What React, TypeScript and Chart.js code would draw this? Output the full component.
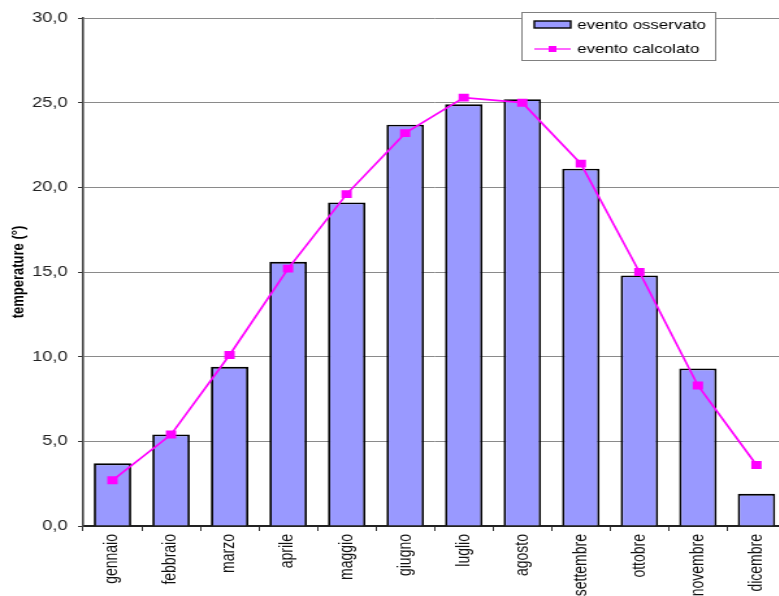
import React, { useEffect, useRef } from "react";
import { Chart, registerables } from "chart.js";

Chart.register(...registerables);

const months = [
  "gennaio", "febbraio", "marzo", "aprile", "maggio", "giugno",
  "luglio", "agosto", "settembre", "ottobre", "novembre", "dicembre",
];
const observed = [3.7, 5.4, 9.4, 15.6, 19.1, 23.7, 24.9, 25.2, 21.1, 14.8, 9.3, 1.9];
const calculated = [2.7, 5.4, 10.1, 15.2, 19.6, 23.2, 25.3, 25.0, 21.4, 15.0, 8.3, 3.6];
const seriesNames = ["evento osservato", "evento calcolato"];
const yTitle = "temperature (°)";
const yMin = 0;
const yMax = 30;
const yStep = 5;

const STRETCH = 1.3;
const CW = 610;
const CH = 596;
const FONT = "'Liberation Sans', Arial, sans-serif";
const BAR_FILL = "#9999FF";
const LINE_COLOR = "#FF00FF";

const legendBox = {
  id: "legendBox",
  afterDraw(chart: any) {
    const ctx = chart.ctx;
    const x0 = 401;
    const y0 = 12;
    const w = 150;
    const h = 49;
    ctx.save();
    ctx.fillStyle = "#ffffff";
    ctx.fillRect(x0, y0, w, h);
    ctx.strokeStyle = "#808080";
    ctx.lineWidth = 1;
    ctx.strokeRect(x0 + 0.5, y0 + 0.5, w - 1, h - 1);
    // bar swatch
    ctx.fillStyle = BAR_FILL;
    ctx.fillRect(x0 + 10, y0 + 9, 28, 7);
    ctx.strokeStyle = "#000";
    ctx.lineWidth = 1.4;
    ctx.strokeRect(x0 + 10, y0 + 9, 28, 7);
    // line swatch
    const ly = y0 + 37;
    ctx.strokeStyle = LINE_COLOR;
    ctx.lineWidth = 1.2;
    ctx.beginPath();
    ctx.moveTo(x0 + 10, ly);
    ctx.lineTo(x0 + 38, ly);
    ctx.stroke();
    ctx.fillStyle = LINE_COLOR;
    ctx.fillRect(x0 + 24 - 3, ly - 3, 6, 6);
    // text
    ctx.fillStyle = "#000";
    ctx.font = `13px ${FONT}`;
    ctx.textBaseline = "middle";
    ctx.textAlign = "left";
    ctx.fillText(seriesNames[0], x0 + 43, y0 + 13);
    ctx.fillText(seriesNames[1], x0 + 43, ly);
    ctx.restore();
  },
};

export default function App() {
  const ref = useRef<HTMLCanvasElement | null>(null);

  useEffect(() => {
    if (!ref.current) return;
    const chart = new Chart(ref.current, {
      type: "bar",
      data: {
        labels: months,
        datasets: [
          {
            type: "line",
            label: seriesNames[1],
            data: calculated,
            borderColor: LINE_COLOR,
            backgroundColor: LINE_COLOR,
            borderWidth: 1.7,
            pointStyle: "rect",
            pointRadius: 5.6,
            pointBorderWidth: 0,
            pointBackgroundColor: LINE_COLOR,
            tension: 0,
            order: 0,
          } as any,
          {
            type: "bar",
            label: seriesNames[0],
            data: observed,
            backgroundColor: BAR_FILL,
            borderColor: "#000000",
            borderWidth: 1.8,
            barPercentage: 0.64,
            categoryPercentage: 1,
            order: 1,
          },
        ],
      },
      options: {
        responsive: false,
        animation: false,
        devicePixelRatio: 1,
        layout: { padding: { top: 18, right: 2, left: 0, bottom: 0 } },
        plugins: {
          legend: { display: false },
          tooltip: { enabled: false },
        },
        scales: {
          x: {
            grid: {
              display: true,
              drawOnChartArea: false,
              drawTicks: true,
              tickLength: 5,
              tickColor: "#333",
              offset: true,
            },
            border: { display: true, color: "#222", width: 2 },
            ticks: {
              autoSkip: false,
              maxRotation: 90,
              minRotation: 90,
              padding: 3,
              color: "#111",
              font: { family: FONT, size: 14 },
            },
            afterFit: (scale: any) => {
              scale.height = 70;
            },
          },
          y: {
            min: yMin,
            max: yMax,
            grid: {
              color: "#8a8a8a",
              lineWidth: 1,
              tickColor: "#333",
              tickLength: 4,
            },
            border: { display: true, color: "#444", width: 1.6 },
            ticks: {
              stepSize: yStep,
              padding: 8,
              color: "#222",
              font: { family: FONT, size: 14 },
              callback: (v: any) => Number(v).toFixed(1).replace(".", ","),
            },
            title: {
              display: true,
              text: yTitle,
              color: "#000",
              font: { family: FONT, size: 13, weight: "bold" },
              padding: { top: 7, bottom: 0 },
            },
            afterFit: (scale: any) => {
              scale.width = 64;
            },
          },
        },
      },
      plugins: [legendBox],
    });
    return () => chart.destroy();
  }, []);

  return (
    <div
      style={{
        position: "fixed",
        left: 0,
        top: 0,
        width: 779,
        height: 596,
        overflow: "hidden",
        background: "#fff",
      }}
    >
      <canvas
        ref={ref}
        width={CW}
        height={CH}
        style={{
          display: "block",
          width: CW,
          height: CH,
          transform: `scaleX(${STRETCH})`,
          transformOrigin: "0 0",
        }}
      />
    </div>
  );
}
